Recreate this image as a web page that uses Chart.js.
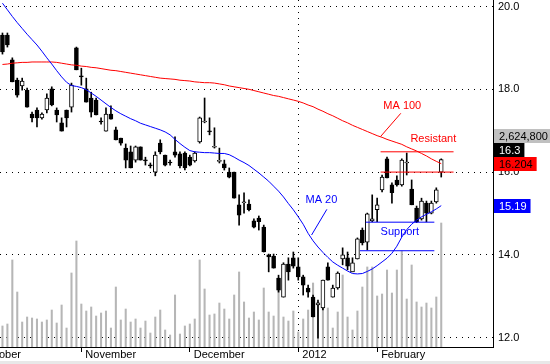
<!DOCTYPE html>
<html>
<head>
<meta charset="utf-8">
<script src="https://cdn.jsdelivr.net/npm/chart.js@4.4.0/dist/chart.umd.min.js"></script>
<style>
  html, body { margin: 0; padding: 0; background: #fff; }
  canvas { display: block; }
</style>
</head>
<body>
<canvas id="stockChart" width="550" height="364"></canvas>
<script>
// daily bars, slot 0 = first visible day (Oct 2011), slot 89 = last day (Feb 2012)
const opens = [
    19.31, 19.31, 18.71, 18.22, 18.08, 17.98, 17.40, 17.50, 17.31, 17.50,
    18.01, 17.50, 17.19, 17.50, 17.57, 19.00, 18.32, 18.01, 17.79, 17.74,
    17.22, 16.99, 17.40, 17.02, 16.82, 16.58, 16.49, 16.29, 16.61, 16.28,
    16.16, 16.00, 16.70, 16.41, 16.23, 16.49, 16.44, 16.46, 16.36, 16.27,
    16.73, 17.21, 16.98, 16.60, 16.26, 16.20, 16.00, 16.00, 15.21, 15.26,
    15.23, 14.82, 14.89, 14.67, 14.00, 13.97, 13.44, 12.98, 13.78, 13.93,
    13.71, 13.47, 13.20, 12.98, 12.79, 12.72, 13.71, 12.98, 13.20, 13.90,
    13.93, 13.59, 13.90, 14.60, 14.31, 14.82, 15.09, 15.57, 16.32, 15.69,
    15.81, 15.69, 16.22, 15.59, 15.13, 14.87, 15.25, 15.01, 15.28, 16.00
];
const highs = [
    19.36, 19.36, 18.76, 18.27, 18.27, 18.03, 17.45, 17.55, 17.43, 17.89,
    18.06, 17.55, 17.31, 17.50, 18.15, 19.02, 18.51, 18.27, 17.93, 17.79,
    17.31, 17.55, 17.60, 17.09, 16.82, 16.68, 16.63, 16.63, 16.61, 16.36,
    16.22, 16.49, 16.78, 16.41, 16.29, 16.85, 16.49, 16.49, 16.41, 16.49,
    17.33, 17.79, 17.31, 17.07, 16.58, 16.29, 16.10, 16.00, 15.45, 15.50,
    15.33, 14.87, 14.94, 14.72, 14.02, 14.02, 13.51, 13.81, 13.93, 14.07,
    13.93, 13.51, 13.27, 13.03, 12.91, 13.39, 13.81, 13.27, 13.59, 14.17,
    14.07, 13.93, 14.41, 14.65, 15.01, 15.45, 15.37, 15.93, 16.36, 15.74,
    15.91, 16.32, 16.46, 15.81, 15.18, 15.37, 15.30, 15.30, 15.62, 16.32
];
const lows = [
    18.85, 19.02, 18.18, 17.81, 17.98, 17.57, 17.21, 17.09, 17.28, 17.43,
    17.60, 17.21, 16.99, 17.09, 17.45, 18.47, 18.10, 17.69, 17.33, 17.38,
    17.16, 16.99, 17.28, 16.78, 16.65, 16.10, 16.10, 16.24, 16.29, 16.17,
    16.10, 15.91, 16.44, 16.15, 16.17, 16.36, 16.10, 16.05, 16.15, 16.24,
    16.70, 17.19, 16.90, 16.58, 16.22, 16.05, 15.86, 15.37, 14.72, 15.01,
    15.06, 14.65, 14.60, 14.07, 13.59, 13.68, 13.10, 12.98, 13.39, 13.68,
    13.39, 13.03, 12.98, 12.50, 11.99, 12.67, 13.39, 12.98, 13.17, 13.76,
    13.64, 13.59, 13.90, 14.24, 14.12, 14.80, 14.80, 15.52, 15.86, 15.25,
    15.66, 15.66, 15.93, 15.21, 14.78, 14.84, 14.80, 14.99, 15.25, 15.88
];
const closes = [
    18.90, 19.07, 18.18, 17.86, 18.20, 17.57, 17.31, 17.31, 17.40, 17.79,
    17.62, 17.38, 16.99, 17.31, 18.10, 18.47, 18.30, 17.69, 17.45, 17.38,
    17.21, 17.40, 17.28, 16.78, 16.70, 16.29, 16.10, 16.61, 16.29, 16.27,
    16.15, 16.41, 16.49, 16.17, 16.22, 16.41, 16.15, 16.10, 16.17, 16.46,
    17.31, 17.23, 16.97, 16.61, 16.27, 16.10, 15.88, 15.37, 14.96, 15.28,
    15.09, 14.67, 14.80, 14.07, 13.95, 13.68, 13.15, 13.78, 13.59, 13.73,
    13.47, 13.27, 13.10, 12.50, 12.84, 13.39, 13.39, 13.20, 13.56, 14.00,
    13.73, 13.81, 14.39, 14.29, 14.99, 14.87, 15.21, 15.88, 15.86, 15.50,
    15.69, 16.29, 16.24, 15.21, 14.80, 15.30, 15.01, 15.25, 15.57, 16.3
];
const volumes = [
    445000, 487000, 1842000, 1164000, 529000, 635000, 614000, 593000, 529000, 572000,
    783000, 508000, 889000, 402000, 1567000, 2244000, 910000, 762000, 847000, 656000,
    720000, 762000, 402000, 1270000, 572000, 804000, 529000, 593000, 402000, 550000,
    296000, 635000, 783000, 360000, 254000, 1101000, 275000, 445000, 487000, 593000,
    1842000, 1228000, 677000, 699000, 931000, 804000, 593000, 1101000, 1588000, 953000,
    614000, 741000, 572000, 1249000, 741000, 656000, 1461000, 635000, 550000, 762000,
    318000, 593000, 783000, 1355000, 953000, 889000, 826000, 402000, 741000, 1524000,
    635000, 360000, 762000, 1270000, 1694000, 1694000, 1080000, 1122000, 1630000, 1143000,
    1630000, 2032000, 1016000, 1736000, 953000, 847000, 931000, 826000, 1059000, 2624800
];
const ma20 = [
    20.08, 19.92, 19.76, 19.61, 19.47, 19.33, 19.20, 19.07, 18.92, 18.76,
    18.61, 18.45, 18.30, 18.17, 18.09, 18.07, 18.04, 17.99, 17.91, 17.83,
    17.74, 17.65, 17.56, 17.48, 17.41, 17.35, 17.29, 17.24, 17.18, 17.14,
    17.10, 17.06, 17.02, 16.97, 16.90, 16.79, 16.69, 16.60, 16.52, 16.49,
    16.48, 16.47, 16.47, 16.46, 16.45, 16.45, 16.42, 16.36, 16.29, 16.23,
    16.16, 16.07, 15.98, 15.88, 15.78, 15.66, 15.54, 15.40, 15.24, 15.09,
    14.92, 14.74, 14.52, 14.34, 14.19, 14.06, 13.94, 13.83, 13.75, 13.68,
    13.61, 13.55, 13.54, 13.55, 13.60, 13.66, 13.74, 13.83, 13.92, 14.04,
    14.21, 14.43, 14.61, 14.74, 14.84, 14.92, 14.98, 15.04, 15.11, 15.19
];
const ma100 = [
    18.60, 18.61, 18.63, 18.64, 18.65, 18.65, 18.66, 18.66, 18.66, 18.66,
    18.66, 18.65, 18.63, 18.61, 18.59, 18.58, 18.56, 18.55, 18.53, 18.52,
    18.50, 18.48, 18.46, 18.45, 18.43, 18.41, 18.39, 18.37, 18.35, 18.33,
    18.31, 18.29, 18.27, 18.26, 18.25, 18.24, 18.22, 18.21, 18.20, 18.18,
    18.17, 18.16, 18.16, 18.15, 18.13, 18.11, 18.08, 18.06, 18.04, 18.02,
    18.00, 17.97, 17.94, 17.91, 17.88, 17.85, 17.83, 17.80, 17.77, 17.74,
    17.71, 17.67, 17.62, 17.58, 17.52, 17.47, 17.41, 17.36, 17.30, 17.24,
    17.19, 17.13, 17.08, 17.03, 16.98, 16.93, 16.88, 16.84, 16.79, 16.75,
    16.71, 16.67, 16.61, 16.56, 16.51, 16.45, 16.39, 16.32, 16.26, 16.204
];

// axis ticks
const monthTicks = [-5, 16, 38, 60, 76];
const monthLabels = ['October', 'November', 'December', '2012', 'February'];
const priceTicks = [12, 14, 16, 18, 20];
const yearBreak = 60;

// hand drawn levels and notes, in slot / price units
const guideLines = [
    { from: [76.7, 16.49], to: [91.5, 16.49], color: '#ff0000' },
    { from: [76.7, 16.00], to: [91.5, 16.00], color: '#ff0000' },
    { from: [73.7, 14.79], to: [87.6, 14.79], color: '#0000ff' },
    { from: [72.5, 14.10], to: [87.6, 14.10], color: '#0000ff' },
    { from: [80.8, 17.42], to: [76.7, 16.86], color: '#ff0000' },
    { from: [65.8, 15.10], to: [62.7, 14.48], color: '#0000ff' }
];
const notes = [
    { text: 'MA 100', slot: 81.1, price: 17.60, color: '#ff0000' },
    { text: 'Resistant', slot: 87.4, price: 16.80, color: '#ff0000' },
    { text: 'MA 20', slot: 64.7, price: 15.33, color: '#0000ff' },
    { text: 'Support', slot: 80.6, price: 14.55, color: '#0000ff' }
];

const FONT = '"Liberation Sans", Arial, sans-serif';
Chart.defaults.font.family = FONT;
Chart.defaults.font.size = 11;
Chart.defaults.color = '#000';

const isUp = closes.map((c, i) => c >= opens[i]);

const guideSets = guideLines.map(g => ({
    type: 'line',
    data: [{ x: g.from[0], y: g.from[1] }, { x: g.to[0], y: g.to[1] }],
    borderColor: g.color,
    borderWidth: 1,
    pointRadius: 0,
    order: 0
}));

const notesPlugin = {
    id: 'notes',
    beforeDraw(chart) {
        const ctx = chart.ctx;
        ctx.save();
        ctx.fillStyle = '#fff';
        ctx.fillRect(0, 0, chart.width, chart.height);
        ctx.fillStyle = '#e8e8e8';
        ctx.fillRect(0, chart.height - 3, chart.width, 3);
        ctx.restore();
    },
    afterDatasetsDraw(chart) {
        const { ctx, scales: { x, y } } = chart;
        ctx.save();
        ctx.font = '11px ' + FONT;
        ctx.textAlign = 'center';
        ctx.textBaseline = 'middle';
        notes.forEach(n => {
            ctx.fillStyle = n.color;
            ctx.fillText(n.text, x.getPixelForValue(n.slot), y.getPixelForValue(n.price));
        });
        ctx.restore();
    },
    afterDraw(chart) {
        // value badges on the right axis
        const { ctx, chartArea, scales: { y } } = chart;
        const last = closes.length - 1;
        const h = 14;
        ctx.save();
        ctx.font = '11px ' + FONT;
        ctx.textBaseline = 'middle';
        const badge = (text, cy, bg, fg) => {
            const w = ctx.measureText(text).width + 9;
            ctx.fillStyle = bg;
            ctx.fillRect(chartArea.right + 1, Math.round(cy - h / 2), w, h);
            ctx.fillStyle = fg;
            ctx.fillText(text, chartArea.right + 6, Math.round(cy - h / 2) + h / 2 + 0.5);
        };
        const maY = y.getPixelForValue(ma100[last]);
        let closeY = y.getPixelForValue(closes[last]);
        if (closeY > maY - h) closeY = maY - h;
        const volY = closeY - h;
        badge(volumes[last].toLocaleString('en-US'), volY, '#c0c0c0', '#000');
        badge(String(closes[last]), closeY, '#000', '#fff');
        badge(String(ma100[last]), maY, '#ff0000', '#000');
        badge(String(ma20[last]), y.getPixelForValue(ma20[last]), '#0000ff', '#fff');
        ctx.restore();
    }
};

new Chart(document.getElementById('stockChart'), {
    type: 'bar',
    data: {
        datasets: [
            {
                type: 'line',
                label: 'MA 20',
                data: ma20.map((v, i) => ({ x: i, y: v })),
                borderColor: '#0000ff',
                borderWidth: 1,
                pointRadius: 0,
                order: 1
            },
            {
                type: 'line',
                label: 'MA 100',
                data: ma100.map((v, i) => ({ x: i, y: v })),
                borderColor: '#ff0000',
                borderWidth: 1,
                pointRadius: 0,
                order: 1
            },
            {
                label: 'Body',
                data: opens.map((o, i) => ({ x: i, y: [o, closes[i]] })),
                backgroundColor: c => isUp[c.dataIndex] ? '#fff' : '#000',
                borderColor: '#000',
                borderWidth: 1,
                borderSkipped: false,
                barThickness: 4,
                minBarLength: 1,
                grouped: false,
                order: 3
            },
            {
                label: 'Wick',
                data: highs.map((hi, i) => ({ x: i, y: [lows[i], hi] })),
                backgroundColor: '#000',
                barThickness: 1,
                grouped: false,
                order: 4
            },
            {
                label: 'Volume',
                yAxisID: 'yv',
                data: volumes.map((v, i) => ({ x: i, y: v })),
                backgroundColor: '#b6b6b6',
                barThickness: 1.4,
                grouped: false,
                order: 6
            },
            ...guideSets
        ]
    },
    options: {
        responsive: false,
        animation: false,
        layout: { padding: 0 },
        plugins: {
            legend: { display: false },
            tooltip: { enabled: false }
        },
        scales: {
            x: {
                type: 'linear',
                min: -0.5,
                max: 99.5,
                offset: false,
                afterBuildTicks: s => { s.ticks = monthTicks.map(v => ({ value: v })); },
                afterFit: s => {
                    s.height = 17;
                    s.paddingLeft = 0;
                    s.paddingRight = 0;
                },
                ticks: {
                    autoSkip: false,
                    maxRotation: 0,
                    align: 'start',
                    labelOffset: 4,
                    padding: -4,
                    callback: v => monthLabels[monthTicks.indexOf(v)]
                },
                grid: {
                    offset: false,
                    color: c => (c.tick && c.tick.value === yearBreak) ? '#000' : 'rgba(0,0,0,0)',
                    tickColor: '#000',
                    tickLength: 5
                },
                border: { color: '#000', width: 1, dash: [1, 5] }
            },
            y: {
                position: 'right',
                min: 11.775,
                max: 20.157,
                afterBuildTicks: s => { s.ticks = priceTicks.map(v => ({ value: v })); },
                afterFit: s => {
                    s.width = 57;
                    s.paddingTop = 0;
                    s.paddingBottom = 0;
                },
                ticks: {
                    padding: 5,
                    callback: v => v.toFixed(1)
                },
                grid: { color: '#000', drawTicks: false },
                border: { color: '#000', width: 1, dash: [1, 5] }
            },
            yv: {
                display: false,
                min: 0,
                max: 7345000
            }
        }
    },
    plugins: [notesPlugin]
});
</script>
</body>
</html>
